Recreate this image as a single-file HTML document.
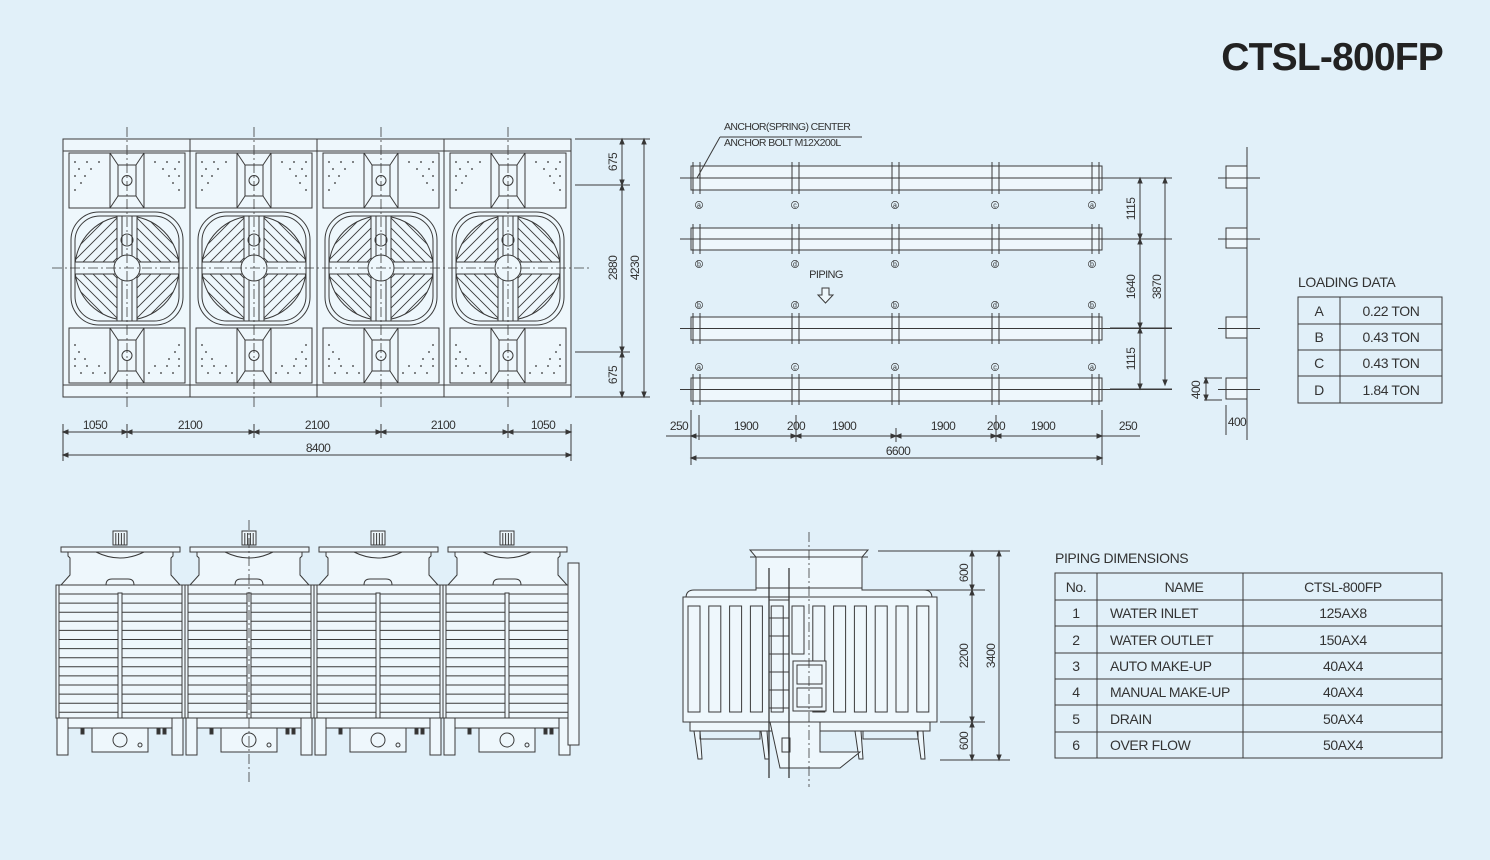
<!DOCTYPE html>
<html><head><meta charset="utf-8"><style>
html,body{margin:0;padding:0;background:#e1f0f9;}
svg{display:block;font-family:"Liberation Sans",sans-serif;}
</style></head><body>
<svg id="s" width="1490" height="860" viewBox="0 0 1490 860" xmlns="http://www.w3.org/2000/svg">
<rect width="1490" height="860" fill="#e1f0f9"/>
<g id="g" fill="none" stroke="#3a3a3a" stroke-width="1"></g>
<g fill="#333" font-size="12" letter-spacing="-0.6">
<text x="1443" y="70" font-size="39" font-weight="bold" text-anchor="end" fill="#222" letter-spacing="-0.8">CTSL-800FP</text>
<text x="95" y="429" text-anchor="middle">1050</text>
<text x="190" y="429" text-anchor="middle">2100</text>
<text x="317" y="429" text-anchor="middle">2100</text>
<text x="443" y="429" text-anchor="middle">2100</text>
<text x="543" y="429" text-anchor="middle">1050</text>
<text x="318" y="452" text-anchor="middle">8400</text>
<text transform="translate(617,162) rotate(-90)" text-anchor="middle">675</text>
<text transform="translate(617,268) rotate(-90)" text-anchor="middle">2880</text>
<text transform="translate(617,375) rotate(-90)" text-anchor="middle">675</text>
<text transform="translate(639,268) rotate(-90)" text-anchor="middle">4230</text>
<text x="724" y="130" font-size="10.5">ANCHOR(SPRING) CENTER</text>
<text x="724" y="146" font-size="10.5">ANCHOR BOLT M12X200L</text>
<text x="826" y="278" font-size="11" text-anchor="middle">PIPING</text>
<text x="679" y="430" text-anchor="middle">250</text>
<text x="746" y="430" text-anchor="middle">1900</text>
<text x="796" y="430" text-anchor="middle">200</text>
<text x="844" y="430" text-anchor="middle">1900</text>
<text x="943" y="430" text-anchor="middle">1900</text>
<text x="996" y="430" text-anchor="middle">200</text>
<text x="1043" y="430" text-anchor="middle">1900</text>
<text x="1128" y="430" text-anchor="middle">250</text>
<text x="898" y="455" text-anchor="middle">6600</text>
<text transform="translate(1135,209) rotate(-90)" text-anchor="middle">1115</text>
<text transform="translate(1135,287) rotate(-90)" text-anchor="middle">1640</text>
<text transform="translate(1135,359) rotate(-90)" text-anchor="middle">1115</text>
<text transform="translate(1161,287) rotate(-90)" text-anchor="middle">3870</text>
<text transform="translate(1200,390) rotate(-90)" text-anchor="middle">400</text>
<text x="1237" y="426" text-anchor="middle">400</text>
<text transform="translate(968,573) rotate(-90)" text-anchor="middle">600</text>
<text transform="translate(968,656) rotate(-90)" text-anchor="middle">2200</text>
<text transform="translate(968,741) rotate(-90)" text-anchor="middle">600</text>
<text transform="translate(995,656) rotate(-90)" text-anchor="middle">3400</text>
</g>
<g fill="#333" font-size="14" letter-spacing="-0.4">
<text x="1298" y="287">LOADING DATA</text>
<text x="1319" y="316" text-anchor="middle">A</text><text x="1391" y="316" text-anchor="middle">0.22 TON</text>
<text x="1319" y="342" text-anchor="middle">B</text><text x="1391" y="342" text-anchor="middle">0.43 TON</text>
<text x="1319" y="368" text-anchor="middle">C</text><text x="1391" y="368" text-anchor="middle">0.43 TON</text>
<text x="1319" y="395" text-anchor="middle">D</text><text x="1391" y="395" text-anchor="middle">1.84 TON</text>
<text x="1055" y="563">PIPING DIMENSIONS</text>
<text x="1076" y="592" text-anchor="middle">No.</text><text x="1184" y="592" text-anchor="middle">NAME</text><text x="1343" y="592" text-anchor="middle">CTSL-800FP</text>
<text x="1076" y="618" text-anchor="middle">1</text><text x="1110" y="618">WATER INLET</text><text x="1343" y="618" text-anchor="middle">125AX8</text>
<text x="1076" y="645" text-anchor="middle">2</text><text x="1110" y="645">WATER OUTLET</text><text x="1343" y="645" text-anchor="middle">150AX4</text>
<text x="1076" y="671" text-anchor="middle">3</text><text x="1110" y="671">AUTO MAKE-UP</text><text x="1343" y="671" text-anchor="middle">40AX4</text>
<text x="1076" y="697" text-anchor="middle">4</text><text x="1110" y="697">MANUAL MAKE-UP</text><text x="1343" y="697" text-anchor="middle">40AX4</text>
<text x="1076" y="724" text-anchor="middle">5</text><text x="1110" y="724">DRAIN</text><text x="1343" y="724" text-anchor="middle">50AX4</text>
<text x="1076" y="750" text-anchor="middle">6</text><text x="1110" y="750">OVER FLOW</text><text x="1343" y="750" text-anchor="middle">50AX4</text>
</g>
<g id="lbl" fill="#333" font-size="7" text-anchor="middle"></g>
</svg>
<script>
var g=document.getElementById('g'),out='';
var F='#eef7fc';
function L(a,b,c,d,ex){out+='<line x1="'+a+'" y1="'+b+'" x2="'+c+'" y2="'+d+'" '+(ex||'')+'/>';}
function R(x,y,w,h,ex){out+='<rect x="'+x+'" y="'+y+'" width="'+w+'" height="'+h+'" '+(ex||'')+'/>';}
function C(x,y,r,ex){out+='<circle cx="'+x+'" cy="'+y+'" r="'+r+'" '+(ex||'')+'/>';}
function P(d,ex){out+='<path d="'+d+'" '+(ex||'')+'/>';}
var DASH='stroke-dasharray="10,3,2,3" stroke-width="0.8"';
function arrow(x,y,dir){
 var s=5,w=2;
 if(dir=='r')P('M'+x+' '+y+'l-'+s+' -'+w+'v'+2*w+'z','fill="#333"');
 if(dir=='l')P('M'+x+' '+y+'l'+s+' -'+w+'v'+2*w+'z','fill="#333"');
 if(dir=='d')P('M'+x+' '+y+'l-'+w+' -'+s+'h'+2*w+'z','fill="#333"');
 if(dir=='u')P('M'+x+' '+y+'l-'+w+' '+s+'h'+2*w+'z','fill="#333"');
}
function hdim(y,xs){L(xs[0],y,xs[xs.length-1],y);for(var i=0;i<xs.length;i++){L(xs[i],y-8,xs[i],y+6);if(i>0)arrow(xs[i],y,'r');if(i<xs.length-1)arrow(xs[i],y,'l');}}
function vdim(x,ys){L(x,ys[0],x,ys[ys.length-1]);for(var i=0;i<ys.length;i++){if(i>0)arrow(x,ys[i],'d');if(i<ys.length-1)arrow(x,ys[i],'u');}}
// ===== plan view =====
R(63,139,508,258,'fill="'+F+'"');L(63,151,571,151);L(63,385,571,385);
for(var k=0;k<4;k++){
 var x0=63+127*k,cx=x0+64;
 if(k>0)L(x0,139,x0,397);
 [[153,208],[328,383]].forEach(function(p,j){
  R(x0+6,p[0],41,p[1]-p[0]);R(x0+81,p[0],41,p[1]-p[0]);
  R(x0+55,p[0]+12,18,p[1]-p[0]-24);
  L(x0+47,p[0],x0+81,p[0]);L(x0+47,p[1],x0+81,p[1]);
  L(x0+47,p[0],x0+55,p[0]+12);L(x0+81,p[0],x0+73,p[0]+12);
  L(x0+47,p[1],x0+55,p[1]-12);L(x0+81,p[1],x0+73,p[1]-12);
  C(cx,(p[0]+p[1])/2,5);
  var dots=j==0?[[10,5],[22,5],[34,5],[14,12],[26,12],[10,19],[20,19],[16,26],[10,33]]:[[10,5],[14,12],[10,19],[20,19],[10,26],[22,26],[34,26],[16,33],[28,33],[40,33]];
  dots.forEach(function(d){var yy=j==0?p[0]+4+d[1]:p[0]+d[1]+12;
   C(x0+6+d[0]-4,yy,0.9,'fill="#333" stroke="none"');C(x0+122-d[0]+4,yy,0.9,'fill="#333" stroke="none"');});
 });
 // fan
 R(cx-56,212,112,113,'rx="28" fill="'+F+'"');R(cx-52,216,104,105,'rx="25"');
 out+='<clipPath id="c'+k+'"><circle cx="'+cx+'" cy="268" r="52"/></clipPath>';
 C(cx,268,52);
 var q=[[-1,-1],[1,-1],[-1,1],[1,1]];
 out+='<g clip-path="url(#c'+k+')">';
 q.forEach(function(s,qi){
  var id='q'+k+'_'+qi;
  out+='<clipPath id="'+id+'"><rect x="'+(s[0]<0?cx-60:cx)+'" y="'+(s[1]<0?208:268)+'" width="60" height="60"/></clipPath>';
  var h='',slash=(s[0]*s[1]>0); // TL & BR: '/'
  for(var t=-120;t<=120;t+=10){
   if(slash)h+='M'+(cx+t-70)+' '+(268+70)+'l140 -140 ';
   else h+='M'+(cx+t-70)+' '+(268-70)+'l140 140 ';
  }
  P(h,'clip-path="url(#'+id+')" stroke-width="0.9"');
 });
 out+='</g>';
 R(cx-52,262,104,12,'fill="'+F+'"');R(cx-10,216,20,105,'fill="'+F+'"');L(cx-5,216,cx-5,321);L(cx+5,216,cx+5,321);
 C(cx,240,6);C(cx,268,13,'fill="'+F+'"');
 L(cx,127,cx,410,DASH);
}
L(52,268,590,268,DASH);
hdim(432,[63,127,254,381,508,571]);L(63,425,63,460);L(571,425,571,460);
hdim(455,[63,571]);
L(575,139,650,139);L(575,185,630,185);L(575,352,630,352);L(575,397,650,397);
vdim(622,[139,185,352,397]);vdim(644,[139,397]);
// ===== anchor plan =====
var rails=[[166,190],[228,250],[317,340],[378,401]];
var ax=[693,792,892,992,1092];
rails.forEach(function(r,i){
 R(691,r[0],411,r[1]-r[0],'fill="'+F+'"');
 var cy=(r[0]+r[1])/2;L(680,cy,1115,cy);L(1102,cy,1172,cy);
 ax.forEach(function(x,j){L(x,r[0]-4,x,r[1]+4);L(x+7,r[0]-4,x+7,r[1]+4);});
});
L(697,178,720,137);L(720,137,862,137);
var lab=[['a','c','a','c','a',205],['b','d','b','d','b',264],['b','d','b','d','b',305],['a','c','a','c','a',367]];
var lt='';
lab.forEach(function(r){for(var j=0;j<5;j++){var x=ax[j]+(j==0?6:j==4?0:3);C(x,r[5],3.6,'stroke-width="0.7"');lt+='<text x="'+x+'" y="'+(r[5]+2.5)+'">'+r[j]+'</text>';}});
document.getElementById('lbl').innerHTML=lt;
P('M822 288h7v7h4l-7.5 8l-7.5 -8h4z','fill="'+F+'"');
L(691,410,691,465);L(1102,410,1102,465);
hdim(436,[691,796,896,996,1102]);L(699,415,699,440);L(796,415,796,440);L(996,415,996,440);L(1102,415,1102,440);
L(666,436,691,436);L(1102,436,1140,436);
hdim(458,[691,1102]);
[178,239,328,389].forEach(function(y){L(1110,y,1172,y);});
vdim(1140,[178,239,328,389]);vdim(1165,[178,385]);
L(1247,147,1247,440);
rails.forEach(function(r){R(1226,r[0],21,r[1]-r[0]-2,'fill="'+F+'"');L(1218,(r[0]+r[1])/2,1260,(r[0]+r[1])/2);});
L(1204,378,1222,378);L(1204,400,1222,400);vdim(1206,[378,400]);
L(1226,405,1226,435);L(1247,405,1247,435);
R(1298,297,144,106);[324,350,376].forEach(function(y){L(1298,y,1442,y);});L(1340,297,1340,403);
R(1055,573,387,185);[600,626,653,679,705,732].forEach(function(y){L(1055,y,1442,y);});L(1097,573,1097,758);L(1243,573,1243,758);
// ===== front elevation =====
for(var k=0;k<4;k++){
 var u=56+129*k,cx=u+64;
 R(cx-7,531,14,14,'fill="'+F+'"');for(var i=1;i<5;i++)L(cx-7+i*2.8,533,cx-7+i*2.8,545);
 R(u+5,547,119,5,'fill="'+F+'"');
 P('M'+(u+12)+' 552v4l2 2v17l-9 10h119l-9 -10v-17l2 -2v-4z','fill="'+F+'"');
 P('M'+(cx-24)+' 552q24 12 48 0');P('M'+(cx-14)+' 585q0 -6 6 -6h16q6 0 6 6');
 R(u,585,129,133,'fill="'+F+'"');
 for(var y=594;y<716;y+=9.1)L(u+3,y,u+126,y);
 L(u+3,585,u+3,718);L(u+126,585,u+126,718);
 R(cx-2,593,4,125,'fill="'+F+'"');
 R(u+5,718,119,10,'fill="'+F+'"');
 R(u+1,718,11,37,'fill="'+F+'"');R(u+116,718,11,37,'fill="'+F+'"');
 R(u+36,728,56,24,'fill="'+F+'"');C(cx,740,7);C(cx+20,745,2);
 R(u+25,728,3,6,'fill="#333"');R(u+101,728,3,6,'fill="#333"');R(u+107,728,3,6,'fill="#333"');
}
R(568,563,11,182,'fill="'+F+'"');
L(249,520,249,785,DASH);
// ===== side elevation =====
P('M750 550h118l-6 7v31h-106v-31z','fill="'+F+'"');L(750,557,868,557);
P('M686 598q0 -8 8 -8h62v-2h106v2h62q8 0 8 8z','fill="'+F+'"');
R(683,597,254,125,'fill="'+F+'"');
for(var i=0;i<12;i++){var sx=688+i*20.8;if(i==5)R(sx,606,12,48);else R(sx,606,12,106);}
R(793,661,33,50,'fill="'+F+'"');R(797,665,25,19);R(797,688,25,19);
R(690,722,240,9,'fill="'+F+'"');
P('M694 731l4 28h4l-2 -28zM761 731l4 28h4l-2 -28zM855 731l4 28h4l-2 -28zM917 731l4 28h4l-2 -28z','fill="'+F+'"');
R(700,731,60,8);R(863,731,55,8);
P('M770 722h50v30h40l-20 16h-60z','fill="'+F+'"');R(782,738,8,14,'fill="'+F+'"');
L(769,568,769,778,'stroke-width="1.3"');L(789,568,789,778,'stroke-width="1.3"');
for(var y=600;y<720;y+=18)L(769,y,789,y);
L(809,532,809,787,DASH);
L(878,551,1010,551);L(910,590,985,590);L(940,722,985,722);L(940,760,1010,760);
vdim(972,[551,590,722,760]);vdim(999,[551,760]);
g.innerHTML=out;
</script>
</body></html>
